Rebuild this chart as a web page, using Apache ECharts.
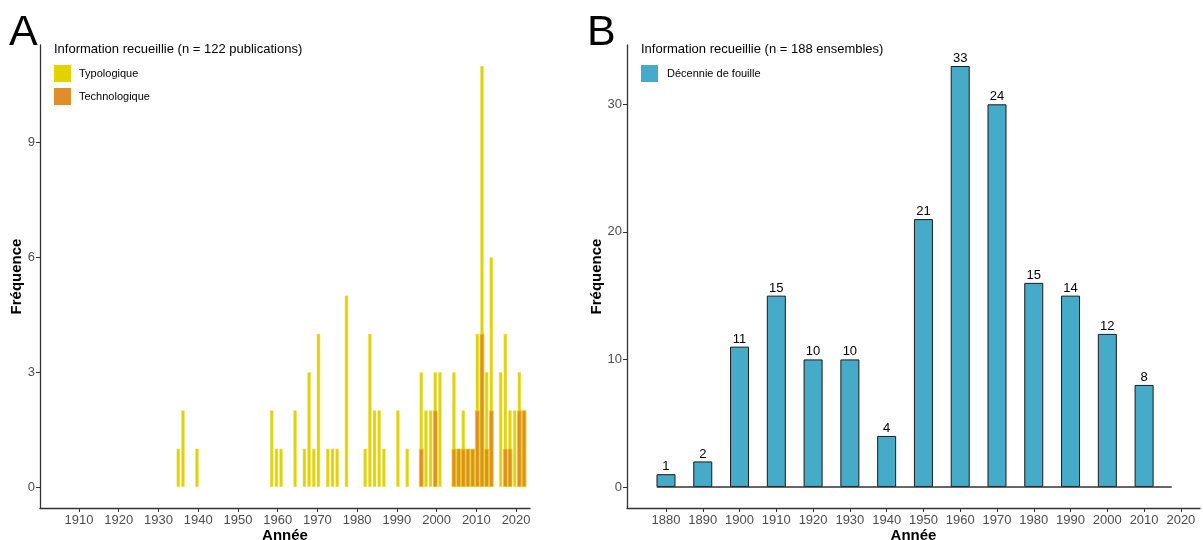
<!DOCTYPE html>
<html>
<head>
<meta charset="utf-8">
<script src="https://cdn.jsdelivr.net/npm/echarts@6/dist/echarts.min.js"></script>
<style>
  html, body { margin: 0; padding: 0; background: #fff; }
  #chart { width: 1203px; height: 540px; }
</style>
</head>
<body>
<div id="chart"></div>
<script>
// Panneau A : histogramme (centres des classes, ~1,18 an de large)
const binCentersA = [1935.00, 1936.18, 1939.70, 1958.51, 1959.69, 1960.86, 1964.39, 1966.74, 1967.92,
  1969.09, 1970.27, 1972.62, 1973.80, 1974.97, 1977.32, 1982.03, 1983.20, 1984.38, 1985.55, 1986.73,
  1990.26, 1992.61, 1996.14, 1997.31, 1998.49, 1999.66, 2000.84, 2004.36, 2005.54, 2006.72, 2007.89,
  2009.07, 2010.24, 2011.42, 2012.59, 2013.77, 2016.12, 2017.30, 2018.47, 2019.65, 2020.82, 2022.00];
const typologique = [1, 2, 1, 2, 1, 1, 2, 1, 3,
  1, 4, 1, 1, 1, 5, 1, 4, 2, 2, 1,
  2, 1, 3, 2, 2, 3, 3, 3, 1, 2, 0,
  0, 4, 11, 3, 6, 3, 4, 2, 2, 3, 2];
const technologique = [0, 0, 0, 0, 0, 0, 0, 0, 0,
  0, 0, 0, 0, 0, 0, 0, 0, 0, 0, 0,
  0, 0, 1, 0, 0, 2, 0, 1, 1, 1, 1,
  1, 2, 4, 1, 2, 0, 1, 1, 0, 2, 2];
const ticksA = [1910, 1920, 1930, 1940, 1950, 1960, 1970, 1980, 1990, 2000, 2010, 2020];
const yTicksA = [0, 3, 6, 9];

// Panneau B : décennies de fouille
const decennies = [1880, 1890, 1900, 1910, 1920, 1930, 1940, 1950, 1960, 1970, 1980, 1990, 2000, 2010];
const frequenceB = [1, 2, 11, 15, 10, 10, 4, 21, 33, 30, 16, 15, 12, 8];
const etiquettesB = [1, 2, 11, 15, 10, 10, 4, 21, 33, 24, 15, 14, 12, 8];
const ticksB = [1880, 1890, 1900, 1910, 1920, 1930, 1940, 1950, 1960, 1970, 1980, 1990, 2000, 2010, 2020];
const yTicksB = [0, 10, 20, 30];

const font = "'Liberation Sans', Arial, sans-serif";
const axisColor = "#333";
const labelColor = "#4d4d4d";

const pairs = (xs, ys) => xs.map((x, i) => [x, ys[i]]).filter(d => d[1] > 0);

const xAxisBase = (gridIndex, min, max, ticks) => ({
  type: "value",
  gridIndex,
  min,
  max,
  axisLine: { show: true, onZero: false, lineStyle: { color: axisColor, width: 1.3 } },
  axisTick: { show: true, length: 4, customValues: ticks, lineStyle: { color: axisColor } },
  axisLabel: { customValues: ticks, formatter: v => String(v), color: labelColor, fontSize: 13, fontFamily: font, margin: 6 },
  splitLine: { show: false },
  name: "Année",
  nameLocation: "middle",
  nameGap: 20,
  nameMoveOverlap: false,
  nameTextStyle: { fontSize: 15, fontWeight: "bold", color: "#000", fontFamily: font },
});

const yAxisBase = (gridIndex, min, max, ticks, gap) => ({
  type: "value",
  gridIndex,
  min,
  max,
  axisLine: { show: true, onZero: false, lineStyle: { color: axisColor, width: 1.3 } },
  axisTick: { show: true, length: 4, customValues: ticks, lineStyle: { color: axisColor } },
  axisLabel: { customValues: ticks, formatter: v => String(v), color: labelColor, fontSize: 13, fontFamily: font, margin: 5 },
  splitLine: { show: false },
  name: "Fréquence",
  nameLocation: "middle",
  nameGap: gap,
  nameMoveOverlap: false,
  nameRotate: 90,
  nameTextStyle: { fontSize: 15, fontWeight: "bold", color: "#000", fontFamily: font },
});

const chart = echarts.init(document.getElementById("chart"));

const option = {
  animation: false,
  backgroundColor: "#fff",
  title: [
    { text: "A", left: 9, top: 12, padding: 0, textStyle: { fontSize: 43, fontWeight: "normal", color: "#000", fontFamily: font } },
    { text: "B", left: 587, top: 12, padding: 0, textStyle: { fontSize: 43, fontWeight: "normal", color: "#000", fontFamily: font } },
  ],
  graphic: [
    { type: "text", left: 54, top: 43, style: { text: "Information recueillie (n = 122 publications)", fontSize: 13, fill: "#000", fontFamily: font } },
    { type: "text", left: 641, top: 43, style: { text: "Information recueillie (n = 188 ensembles)", fontSize: 13, fill: "#000", fontFamily: font } },
  ],
  legend: [
    {
      data: ["Typologique", "Technologique"],
      orient: "vertical",
      left: 54,
      top: 65,
      padding: 0,
      itemWidth: 17,
      itemHeight: 17,
      itemGap: 6,
      icon: "rect",
      itemStyle: { borderWidth: 0 },
      textStyle: { fontSize: 11, color: "#000", fontFamily: font, padding: [0, 0, 0, 3] },
    },
    {
      data: ["Décennie de fouille"],
      orient: "vertical",
      left: 641,
      top: 65,
      padding: 0,
      itemWidth: 17,
      itemHeight: 17,
      icon: "rect",
      itemStyle: { borderWidth: 0 },
      textStyle: { fontSize: 11, color: "#000", fontFamily: font, padding: [0, 0, 0, 4] },
    },
  ],
  grid: [
    { left: 40, top: 45, width: 490, height: 463, outerBoundsMode: "none" },
    { left: 627, top: 45, width: 573, height: 463, outerBoundsMode: "none" },
  ],
  xAxis: [
    xAxisBase(0, 1900.2, 2023.5, ticksA),
    xAxisBase(1, 1869.4, 2025.2, ticksB),
    { type: "value", gridIndex: 0, min: 1900.2, max: 2023.5, show: false },
  ],
  yAxis: [
    yAxisBase(0, -0.55, 11.55, yTicksA, 16),
    yAxisBase(1, -1.65, 34.65, yTicksB, 23),
  ],
  series: [
    {
      name: "Typologique",
      type: "bar",
      xAxisIndex: 0,
      yAxisIndex: 0,
      barWidth: 3.4,
      data: pairs(binCentersA, typologique),
      itemStyle: { color: "#E2D200", borderColor: "#ECE36A", borderWidth: 0.5 },
    },
    {
      name: "Technologique",
      type: "bar",
      xAxisIndex: 2,
      yAxisIndex: 0,
      barWidth: 4.6,
      data: pairs(binCentersA, technologique),
      itemStyle: { color: "#E08D2C", borderColor: "#E2D200", borderWidth: 0.8 },
    },
    {
      name: "Décennie de fouille",
      type: "bar",
      xAxisIndex: 1,
      yAxisIndex: 1,
      barWidth: 19,
      data: pairs(decennies, frequenceB),
      itemStyle: { color: "#45ABC8", borderColor: "#1a1a1a", borderWidth: 1 },
      label: {
        show: true,
        position: "top",
        distance: 1,
        color: "#000",
        fontSize: 13,
        fontFamily: font,
        formatter: p => String(etiquettesB[p.dataIndex]),
      },
      markLine: {
        silent: true,
        symbol: "none",
        label: { show: false },
        lineStyle: { color: "#333", width: 1.5, type: "solid" },
        data: [[{ coord: [1877.5, 0] }, { coord: [2017.5, 0] }]],
      },
    },
  ],
};

chart.setOption(option);
window.addEventListener("resize", () => chart.resize());
</script>
</body>
</html>
